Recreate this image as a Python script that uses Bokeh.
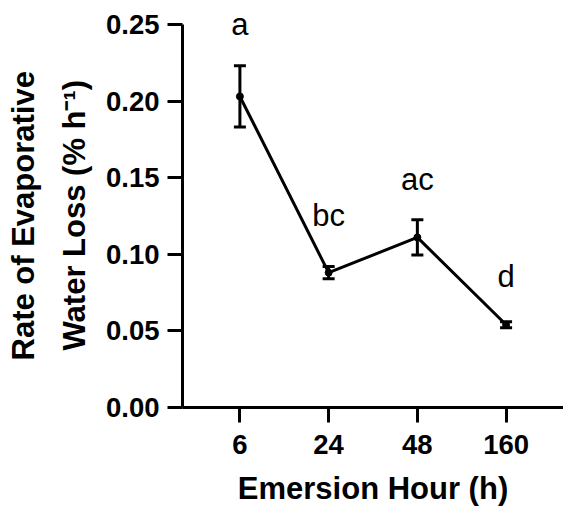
from bokeh.plotting import figure
from bokeh.models import (ColumnDataSource, FactorRange, Range1d, FixedTicker,
                          Whisker, TeeHead, Title, NumeralTickFormatter)
from bokeh.core.properties import value
from bokeh.embed import file_html
from bokeh.resources import INLINE

# ---- data ----
hours = ["6", "24", "48", "160"]
rate = [0.203, 0.088, 0.111, 0.054]
sem = [0.020, 0.004, 0.0115, 0.002]
letters = ["a", "bc", "ac", "d"]
letter_y = [0.250, 0.125, 0.1486, 0.0853]
y_ticks = [0.0, 0.05, 0.10, 0.15, 0.20, 0.25]
y_title_lines = ["Rate of Evaporative", "Water Loss (% h\u207b\u00b9)"]
x_title = "Emersion Hour (h)"

FONT = "Liberation Sans"

src = ColumnDataSource(dict(
    hour=hours,
    rate=rate,
    upper=[r + s for r, s in zip(rate, sem)],
    lower=[r - s for r, s in zip(rate, sem)],
    letter=letters,
    ly=letter_y,
))

p = figure(width=563, height=508,
           x_range=FactorRange(*hours, range_padding=0.147, range_padding_units="absolute"),
           y_range=Range1d(0, 0.265625),
           output_backend="svg", toolbar_location=None,
           min_border_left=180, min_border_right=0, min_border_top=0, min_border_bottom=100)
p.outline_line_color = None
p.xgrid.visible = False
p.ygrid.visible = False
p.background_fill_color = "white"
p.border_fill_color = "white"

# data marks
p.line(x="hour", y="rate", source=src, line_width=3, line_color="black")
p.scatter(x="hour", y="rate", source=src, size=7, color="black")
head_u = TeeHead(size=12, line_width=3, line_color="black")
head_l = TeeHead(size=12, line_width=3, line_color="black")
p.add_layout(Whisker(source=src, base="hour", upper="upper", lower="lower",
                     line_width=3, line_color="black",
                     upper_head=head_u, lower_head=head_l))
p.text(x="hour", y="ly", text="letter", source=src,
       text_font=value(FONT), text_font_size="31px",
       text_align="center", text_baseline="middle", text_color="black")

# y axis
ya = p.yaxis[0]
ya.ticker = FixedTicker(ticks=y_ticks)
ya.formatter = NumeralTickFormatter(format="0.00")
ya.bounds = (0, 0.25)
ya.minor_tick_line_color = None
ya.major_tick_in = 0
ya.major_tick_out = 15
ya.major_tick_line_width = 3
ya.axis_line_width = 3
ya.major_label_standoff = 8
ya.major_label_text_font = FONT
ya.major_label_text_font_style = "bold"
ya.major_label_text_font_size = "27.5px"
ya.major_label_text_color = "black"

# two-line y-axis title, centred on the drawn axis (0 .. 0.25)
for line, standoff, offset in zip(reversed(y_title_lines), [22, 6], [57, 47]):
    p.add_layout(Title(text=line, align="left", offset=offset, standoff=standoff,
                       text_font=FONT, text_font_style="bold",
                       text_font_size="31px", text_color="black"), "left")

# x axis
xa = p.xaxis[0]
xa.major_tick_in = 0
xa.major_tick_out = 15
xa.major_tick_line_width = 3
xa.axis_line_width = 3
xa.major_label_standoff = 12
xa.major_label_text_font = FONT
xa.major_label_text_font_style = "bold"
xa.major_label_text_font_size = "27.5px"
xa.major_label_text_color = "black"
xa.axis_label = x_title
xa.axis_label_text_font = FONT
xa.axis_label_text_font_style = "bold"
xa.axis_label_text_font_size = "31px"
xa.axis_label_text_color = "black"
xa.axis_label_standoff = 14

open("out.html", "w").write(file_html(p, INLINE))
